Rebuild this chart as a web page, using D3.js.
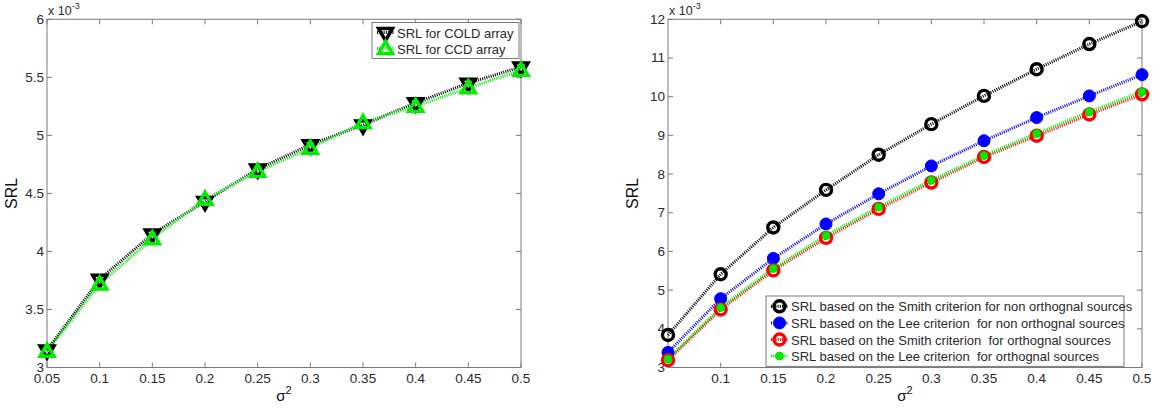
<!DOCTYPE html>
<html>
<head>
<meta charset="utf-8">
<script src="https://cdn.jsdelivr.net/npm/d3@7"></script>
<style>
  html, body { margin: 0; padding: 0; background: #fff; }
  svg { display: block; font-family: "Liberation Sans", Arial, sans-serif; }
  text { white-space: pre; }
</style>
</head>
<body>
<svg id="chart" width="1154" height="411"></svg>
<script>
// ---- data (SRL values in units of 1e-3) ----
const sigma2 = [0.05, 0.1, 0.15, 0.2, 0.25, 0.3, 0.35, 0.4, 0.45, 0.5];

const coldSRL = [3.15, 3.76, 4.15, 4.43, 4.71, 4.92, 5.09, 5.28, 5.45, 5.59];
const ccdSRL  = [3.14, 3.72, 4.11, 4.45, 4.69, 4.89, 5.11, 5.25, 5.41, 5.56];

const smithNonOrth = [3.84, 5.41, 6.62, 7.59, 8.50, 9.29, 10.02, 10.71, 11.36, 11.95];
const leeNonOrth   = [3.39, 4.78, 5.82, 6.71, 7.49, 8.21, 8.86, 9.46, 10.02, 10.57];
const smithOrth    = [3.19, 4.50, 5.51, 6.35, 7.10, 7.78, 8.44, 8.99, 9.54, 10.06];
const leeOrth      = [3.22, 4.55, 5.56, 6.41, 7.15, 7.84, 8.48, 9.05, 9.61, 10.13];

const leftXTicks  = [0.05, 0.1, 0.15, 0.2, 0.25, 0.3, 0.35, 0.4, 0.45, 0.5];
const leftXLabels = ["0.05", "0.1", "0.15", "0.2", "0.25", "0.3", "0.35", "0.4", "0.45", "0.5"];
const leftYTicks  = [3, 3.5, 4, 4.5, 5, 5.5, 6];
const leftYLabels = ["3", "3.5", "4", "4.5", "5", "5.5", "6"];

const rightXTicks  = [0.1, 0.15, 0.2, 0.25, 0.3, 0.35, 0.4, 0.45, 0.5];
const rightXLabels = ["0.1", "0.15", "0.2", "0.25", "0.3", "0.35", "0.4", "0.45", "0.5"];
const rightYTicks  = [3, 4, 5, 6, 7, 8, 9, 10, 11, 12];
const rightYLabels = ["3", "4", "5", "6", "7", "8", "9", "10", "11", "12"];

const leftLegend  = ["SRL for COLD array", "SRL for CCD array"];
const rightLegend = [
  "SRL based on the Smith criterion for non orthognal sources",
  "SRL based on the Lee criterion  for non orthognal sources",
  "SRL based on the Smith criterion  for orthognal sources",
  "SRL based on the Lee criterion  for orthognal sources"
];

// ---- drawing ----
const svg = d3.select("#chart");
const axisColor = "#7a7a7a";
const textColor = "#2a2a2a";
const tickFont = 13.5;

function drawAxes(g, x, y, xt, xl, yt, yl) {
  const [x0, x1] = x.range();
  const [y0, y1] = y.range(); // y0 bottom, y1 top
  const tl = 5;
  g.append("rect").attr("x", x0).attr("y", y1).attr("width", x1 - x0).attr("height", y0 - y1)
    .attr("fill", "none").attr("stroke", axisColor).attr("stroke-width", 1);
  const gx = g.append("g");
  xt.forEach((t, i) => {
    const px = x(t);
    gx.append("line").attr("x1", px).attr("x2", px).attr("y1", y0).attr("y2", y0 - tl)
      .attr("stroke", axisColor);
    gx.append("line").attr("x1", px).attr("x2", px).attr("y1", y1).attr("y2", y1 + tl)
      .attr("stroke", axisColor);
    gx.append("text").attr("x", px).attr("y", y0 + 15).attr("text-anchor", "middle")
      .attr("font-size", tickFont).attr("fill", textColor).text(xl[i]);
  });
  const gy = g.append("g");
  yt.forEach((t, i) => {
    const py = y(t);
    gy.append("line").attr("x1", x0).attr("x2", x0 + tl).attr("y1", py).attr("y2", py)
      .attr("stroke", axisColor);
    gy.append("line").attr("x1", x1).attr("x2", x1 - tl).attr("y1", py).attr("y2", py)
      .attr("stroke", axisColor);
    gy.append("text").attr("x", x0 - 3).attr("y", py + 4.5).attr("text-anchor", "end")
      .attr("font-size", tickFont).attr("fill", textColor).text(yl[i]);
  });
  const m = g.append("text").attr("x", x0 + 1).attr("y", y1 - 4).attr("font-size", 12.5).attr("fill", textColor);
  m.append("tspan").text("x 10");
  m.append("tspan").attr("dy", -6).attr("font-size", 9).text("-3");
  g.append("text").attr("transform", `translate(${x0 - 30},${(y0 + y1) / 2}) rotate(-90)`)
    .attr("text-anchor", "middle").attr("font-size", 16).attr("fill", "#111").text("SRL");
  const xlab = g.append("text").attr("x", (x0 + x1) / 2).attr("y", y0 + 33)
    .attr("text-anchor", "middle").attr("font-size", 15).attr("fill", "#111");
  xlab.append("tspan").text("σ");
  xlab.append("tspan").attr("dy", -7).attr("font-size", 11).text("2");
}

function drawLine(g, x, y, vals, color) {
  const line = d3.line().x((d, i) => x(sigma2[i])).y(d => y(d));
  g.append("path").datum(vals).attr("d", line).attr("fill", "none")
    .attr("stroke", color).attr("stroke-width", 3).attr("stroke-dasharray", "1,1.2");
}

function marker(g, type, cx, cy) {
  if (type === "down") {
    g.append("path").attr("d", d3.symbol().type(d3.symbolTriangle).size(85)())
      .attr("transform", `translate(${cx},${cy}) rotate(180)`)
      .attr("fill", "none").attr("stroke", "#000").attr("stroke-width", 3.4);
  } else if (type === "up") {
    g.append("path").attr("d", d3.symbol().type(d3.symbolTriangle).size(85)())
      .attr("transform", `translate(${cx},${cy + 1})`)
      .attr("fill", "none").attr("stroke", "#00ee00").attr("stroke-width", 3.4);
  } else if (type === "ocircle") {
    g.append("circle").attr("cx", cx).attr("cy", cy).attr("r", 5.5)
      .attr("fill", "none").attr("stroke", "#000").attr("stroke-width", 3.4);
  } else if (type === "rcircle") {
    g.append("circle").attr("cx", cx).attr("cy", cy).attr("r", 5.5)
      .attr("fill", "none").attr("stroke", "#ff0000").attr("stroke-width", 3.4);
  } else if (type === "blue") {
    g.append("circle").attr("cx", cx).attr("cy", cy).attr("r", 6)
      .attr("fill", "#0000ff").attr("stroke", "#0000ff").attr("stroke-width", 1);
  } else if (type === "green") {
    g.append("circle").attr("cx", cx).attr("cy", cy).attr("r", 4)
      .attr("fill", "#00ee00").attr("stroke", "#00cc00").attr("stroke-width", 0.8);
  }
}

function drawMarkers(g, x, y, vals, type) {
  vals.forEach((v, i) => marker(g, type, x(sigma2[i]), y(v)));
}

function drawLegend(g, bx, by, bw, rowH, labels, styles) {
  const bh = rowH * labels.length + 4;
  g.append("rect").attr("x", bx).attr("y", by).attr("width", bw).attr("height", bh)
    .attr("fill", "#fff").attr("stroke", axisColor).attr("stroke-width", 1);
  labels.forEach((lab, i) => {
    const cy = by + 2 + rowH * (i + 0.5);
    g.append("line").attr("x1", bx + 5).attr("x2", bx + 22).attr("y1", cy).attr("y2", cy)
      .attr("stroke", styles[i].color).attr("stroke-width", 3).attr("stroke-dasharray", "1,1.2");
    marker(g, styles[i].type, bx + 13.5, cy);
    g.append("text").attr("x", bx + 25).attr("y", cy + 5).attr("font-size", 13)
      .attr("fill", textColor).text(lab);
  });
}

// Left chart
const gl = svg.append("g");
const xl = d3.scaleLinear().domain([0.05, 0.5]).range([47, 521]);
const yl = d3.scaleLinear().domain([3, 6]).range([367.5, 19.3]);
drawAxes(gl, xl, yl, leftXTicks, leftXLabels, leftYTicks, leftYLabels);
drawLine(gl, xl, yl, coldSRL, "#000");
drawLine(gl, xl, yl, ccdSRL, "#00ee00");
drawMarkers(gl, xl, yl, coldSRL, "down");
drawMarkers(gl, xl, yl, ccdSRL, "up");
drawLegend(gl, 372, 22.5, 147, 16, leftLegend,
  [{type: "down", color: "#000"}, {type: "up", color: "#00ee00"}]);

// Right chart
const gr = svg.append("g");
const xr = d3.scaleLinear().domain([0.05, 0.5]).range([668, 1142]);
const yr = d3.scaleLinear().domain([3, 12]).range([367.5, 19.3]);
drawAxes(gr, xr, yr, rightXTicks, rightXLabels, rightYTicks, rightYLabels);
drawLine(gr, xr, yr, smithNonOrth, "#000");
drawLine(gr, xr, yr, leeNonOrth, "#0000ff");
drawLine(gr, xr, yr, smithOrth, "#ff0000");
drawLine(gr, xr, yr, leeOrth, "#00ee00");
drawMarkers(gr, xr, yr, smithNonOrth, "ocircle");
drawMarkers(gr, xr, yr, leeNonOrth, "blue");
drawMarkers(gr, xr, yr, smithOrth, "rcircle");
drawMarkers(gr, xr, yr, leeOrth, "green");
drawLegend(gr, 766, 296, 358, 16.6, rightLegend,
  [{type: "ocircle", color: "#000"}, {type: "blue", color: "#0000ff"},
   {type: "rcircle", color: "#ff0000"}, {type: "green", color: "#00ee00"}]);
</script>
</body>
</html>
